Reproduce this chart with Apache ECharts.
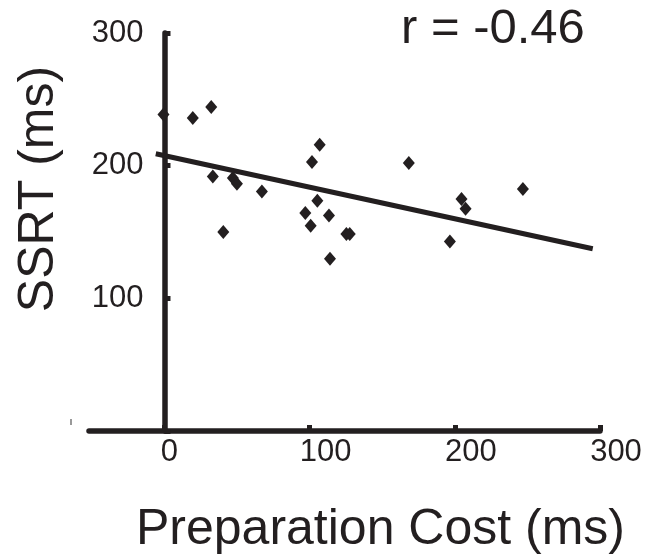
<!DOCTYPE html>
<html>
<head>
<meta charset="utf-8">
<script src="https://cdn.jsdelivr.net/npm/echarts@6/dist/echarts.min.js"></script>
<style>
  html, body { margin: 0; padding: 0; background: #fff; }
  #chart { width: 658px; height: 558px; }
</style>
</head>
<body>
<div id="chart"></div>
<script>
// Data
const prepCost = [-0.7, 19.5, 32.2, 33.3, 47.1, 49.9, 67.1, 40.5, 106.9, 101.6, 105.3, 97.0, 113.3, 100.7, 125.3, 127.6, 114.0, 168.3, 204.6, 207.4, 196.6, 246.9];
const ssrt     = [238.5, 236.0, 244.3, 191.9, 190.7, 186.4, 180.6, 150.0, 215.8, 202.8, 173.6, 164.3, 162.5, 154.7, 148.5, 148.5, 129.8, 202.0, 174.9, 167.5, 142.9, 182.4];
const fitX = [-6, 295];
const fitY = [209, 137.4];
const xTicks = [0, 100, 200, 300];
const rText = 'r = -0.46';
const xName = 'Preparation Cost (ms)';
const yName = 'SSRT (ms)';

const INK = '#231f20';
const FONT = '"Liberation Sans", Arial, sans-serif';

const points = prepCost.map((x, i) => [x, ssrt[i]]);
const fitLine = fitX.map((x, i) => [x, fitY[i]]);

const X_MIN = -52, X_MAX = 300;
const GRID_LEFT = 89, GRID_RIGHT = 58;
const plotW = 658 - GRID_LEFT - GRID_RIGHT;
// shift y axis so it sits on x = 0 (computed from the axis scale)
const yOffset = -plotW * (0 - X_MIN) / (X_MAX - X_MIN);

const chart = echarts.init(document.getElementById('chart'), null, { renderer: 'canvas' });
chart.setOption({
  animation: false,
  backgroundColor: '#fff',
  title: {
    text: rText,
    left: 401,
    top: 5,
    padding: 0,
    textStyle: { fontFamily: FONT, fontSize: 49, fontWeight: 'normal', color: INK }
  },
  graphic: [
    { type: 'line', shape: { x1: 71, y1: 419, x2: 71, y2: 425 }, style: { stroke: '#777', lineWidth: 1.5 }, silent: true }
  ],
  grid: { left: GRID_LEFT, right: GRID_RIGHT, top: 33, bottom: 127, containLabel: false, outerBoundsMode: 'none' },
  xAxis: {
    type: 'value',
    min: X_MIN,
    max: X_MAX,
    name: xName,
    nameLocation: 'middle',
    nameGap: 74,
    nameMoveOverlap: false,
    nameTextStyle: { fontFamily: FONT, fontSize: 50, color: INK, padding: [0, 0, 0, 72] },
    axisLine: { show: true, onZero: false, lineStyle: { color: INK, width: 5.5 } },
    axisTick: { show: true, inside: true, length: 6, customValues: xTicks, lineStyle: { color: INK, width: 5 } },
    axisLabel: {
      show: true,
      customValues: xTicks,
      margin: 6,
      fontFamily: FONT,
      fontSize: 31,
      color: INK,
      formatter: v => (v === 0 ? '{a|0}' : '{b|' + v + '}'),
      rich: {
        a: { fontFamily: FONT, fontSize: 31, color: INK, padding: [0, 0, 0, 10] },
        b: { fontFamily: FONT, fontSize: 31, color: INK, padding: [0, 0, 0, 32] }
      }
    },
    splitLine: { show: false }
  },
  yAxis: {
    type: 'value',
    min: 0,
    max: 300,
    interval: 100,
    offset: yOffset,
    name: yName,
    nameLocation: 'middle',
    nameGap: 100,
    nameMoveOverlap: false,
    nameTextStyle: { fontFamily: FONT, fontSize: 50, color: INK, padding: [0, 0, 0, 86] },
    axisLine: { show: true, onZero: false, lineStyle: { color: INK, width: 5.5 } },
    axisTick: { show: true, inside: true, length: 6, lineStyle: { color: INK, width: 5 } },
    axisLabel: {
      show: true,
      margin: 21,
      fontFamily: FONT,
      fontSize: 31,
      color: INK,
      padding: [0, 0, 3, 0],
      formatter: v => (v === 0 ? '' : String(v))
    },
    splitLine: { show: false }
  },
  series: [
    {
      type: 'scatter',
      data: points,
      symbol: 'diamond',
      symbolSize: [12, 14],
      itemStyle: { color: INK, opacity: 1 },
      z: 3
    },
    {
      type: 'line',
      data: fitLine,
      showSymbol: false,
      symbol: 'none',
      lineStyle: { color: INK, width: 5 },
      z: 4
    }
  ]
});
</script>
</body>
</html>
